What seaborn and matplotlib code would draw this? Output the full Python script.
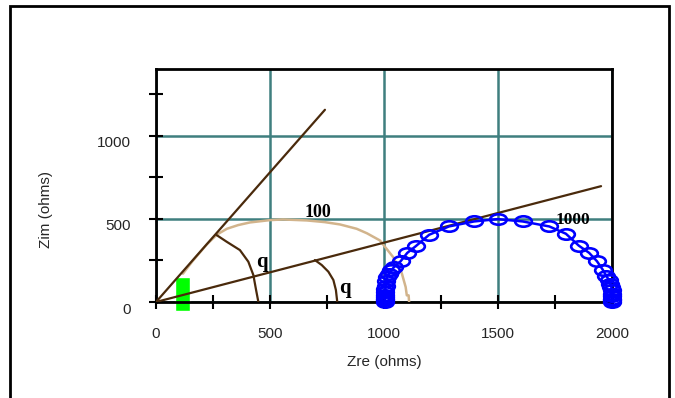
import numpy as np
import pandas as pd
import matplotlib
matplotlib.use("Agg")
import matplotlib.pyplot as plt
import seaborn as sns
from matplotlib.markers import MarkerStyle
from matplotlib.transforms import Affine2D, ScaledTranslation
from matplotlib.patches import Rectangle

# ---------------- data ----------------
x_ticks = [0, 500, 1000, 1500, 2000]
y_ticks = [0, 500, 1000]
x_minor = [250, 750, 1250, 1750]
y_minor = [250, 750, 1250]

# tan semicircle (label "100")
tan_x = [118, 160, 222, 267, 311, 360, 412, 500, 557, 662, 740, 807, 880, 925, 982, 1040, 1078, 1095, 1100, 1108, 1110]
tan_y = [170, 245, 345, 405, 440, 462, 478, 492, 496, 490, 480, 466, 440, 413, 370, 270, 173, 90, 40, 40, 0]

# blue semicircle with open markers (label "1000")
blue_x = [1003, 1003, 1003, 1003, 1004, 1005, 1006, 1008, 1010, 1015, 1022, 1032, 1044, 1073,
          1102, 1139, 1198, 1285, 1395, 1498, 1608, 1725, 1798, 1854, 1900, 1934, 1959, 1974,
          1985, 1993, 1997, 2000, 2001, 2002, 2002, 2002, 2002]
blue_y = [0, 10, 20, 30, 45, 60, 76, 95, 125, 150, 170, 190, 210, 245,
          295, 335, 404, 454, 484, 498, 484, 454, 410, 339, 295, 245, 195, 159,
          135, 110, 90, 70, 50, 35, 20, 10, 0]

# brown construction lines from origin
line1_x = [0, 741]
line1_y = [0, 1155]
line2_x = [0, 1952]
line2_y = [0, 696]

# brown angle arcs
arc1_x = [266, 310, 368, 405, 427, 439, 449]
arc1_y = [402, 362, 312, 242, 162, 72, 0]
arc2_x = [697, 727, 756, 778, 789, 795]
arc2_y = [252, 222, 182, 132, 72, 0]

# green block
green_x = [116]
green_lo = [-55]
green_hi = [150]
green_w = [66]

# annotations
label_texts = ["100", "1000", "q", "q"]
label_x = [710, 1829, 465, 829]
label_y = [535, 494, 238, 83]

# ---------------- plot ----------------
sns.set_theme(style="white")
plt.rcParams['font.family'] = ['Liberation Sans', 'DejaVu Sans']

fig = plt.figure(figsize=(6.75, 3.98), dpi=100)
ax = fig.add_axes([156/675, 1 - 302/398, (612-156)/675, (302-69)/398])

teal = "#3F7F7F"
brown = "#4A2A0C"
tan = "#D2B48C"
blue = "#0000FF"

ax.set_axisbelow(True)
ax.grid(True, which="major", color=teal, linewidth=1.8)

ax.bar(green_x, np.array(green_hi) - np.array(green_lo), bottom=green_lo, width=green_w,
       color="#00FF00", clip_on=False, zorder=2)

sns.lineplot(x=tan_x, y=tan_y, sort=False, estimator=None, color=tan, linewidth=1.8, ax=ax, zorder=3)
for lx, ly in [(line1_x, line1_y), (line2_x, line2_y), (arc1_x, arc1_y), (arc2_x, arc2_y)]:
    sns.lineplot(x=lx, y=ly, sort=False, estimator=None, color=brown, linewidth=1.6, ax=ax, zorder=4)

ell = MarkerStyle("o", fillstyle="none", transform=Affine2D().scale(1.6, 1.0))
sns.lineplot(x=blue_x, y=blue_y, sort=False, estimator=None, color=blue, linewidth=1.8,
             marker=ell, markersize=7.5, markeredgecolor=blue, markerfacecolor="none",
             markeredgewidth=1.9, clip_on=False, ax=ax, zorder=5)

for t, tx, ty in zip(label_texts, label_x, label_y):
    fs = {"100": 13, "1000": 12.5, "q": 15}[t]
    ax.text(tx, ty, t, family="Liberation Serif", fontweight="bold", fontsize=fs,
            ha="center", va="center", color="black", zorder=6)

ax.set_xlim(0, 2000)
ax.set_ylim(0, 1400)
ax.set_xticks(x_ticks)
ax.set_yticks(y_ticks)
ax.set_xticks(x_minor, minor=True)
ax.set_yticks(y_minor, minor=True)
ax.set_xticklabels([str(v) for v in x_ticks])
ax.set_yticklabels([str(v) for v in y_ticks])
ax.tick_params(which="both", direction="inout", length=10, width=1.5, color="black",
               bottom=True, left=True, top=False, right=False)
ax.tick_params(axis="x", which="major", pad=13, labelsize=11)
ax.tick_params(axis="y", which="major", pad=13, labelsize=11)
for lab in ax.get_yticklabels():
    lab.set_transform(lab.get_transform() + ScaledTranslation(0, -6/100, fig.dpi_scale_trans))

for s in ax.spines.values():
    s.set_visible(True)
    s.set_color("black")
    s.set_linewidth(2)

ax.set_xlabel("Zre (ohms)", fontsize=11, labelpad=10)
ax.set_ylabel("Zim (ohms)", fontsize=11)
ax.yaxis.set_label_coords((53-156)/(612-156), 0.5 - 24/233)

fig.add_artist(Rectangle((10/675, -0.1), (669-10)/675, 1.1 - 6/398, transform=fig.transFigure,
                         fill=False, edgecolor="black", linewidth=2, clip_on=False))

fig.savefig("out.png", dpi=100)
